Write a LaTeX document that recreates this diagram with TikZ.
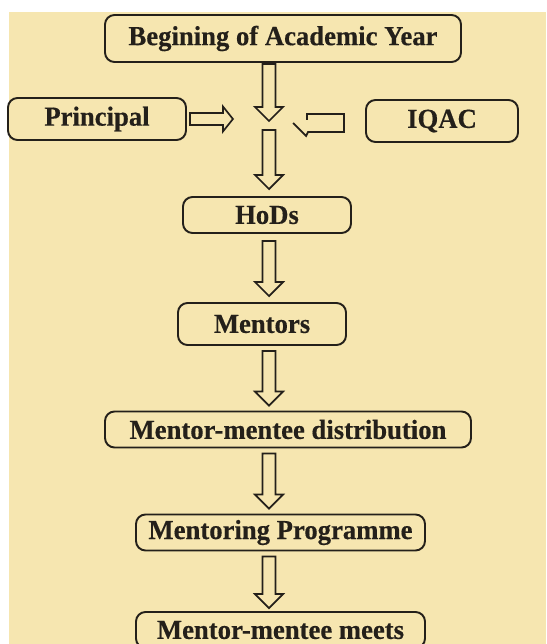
\documentclass[tikz,border=0pt]{standalone}
\usepackage{fontspec}
\setmainfont{Liberation Serif}
\newfontfamily\stagefont[FakeStretch=0.97,FakeBold=0.4]{Liberation Serif}
\usetikzlibrary{calc}
\definecolor{parchment}{RGB}{246,230,176}
\definecolor{ink}{RGB}{36,32,26}

% Hollow block arrow pointing down along the vertical through #1,
% from anchor #2 (offset #4 below it) to anchor #3 (tip #5 above it).
\newcommand{\flowdown}[5]{%
  \draw[blockline]
    ($(#1 |- #2)+(-6.5,#4)$) -- ($(#1 |- #3)+(-6.5,{-(#5)-14})$)
    -- ($(#1 |- #3)+(-14,{-(#5)-14})$) -- ($(#1 |- #3)+(0,{-(#5)})$)
    -- ($(#1 |- #3)+(14,{-(#5)-14})$) -- ($(#1 |- #3)+(6.5,{-(#5)-14})$)
    -- ($(#1 |- #2)+(6.5,#4)$) -- cycle;}

\begin{document}
\begin{tikzpicture}[x=1pt,y=-1pt,
  stage/.style={draw=ink, line width=1.9pt, rounded corners=9.5pt,
    font=\stagefont\bfseries\fontsize{27.5}{30}\selectfont, text=ink, inner sep=0pt},
  blockline/.style={draw=ink, line width=1.7pt, line join=miter}]
\useasboundingbox (0,0) rectangle (546,644);
\clip (0,0) rectangle (546,644);
\fill[white] (0,0) rectangle (546,644);
\fill[parchment] (8.5,12) rectangle (546,644);

% stages of the mentoring flow
\node[stage, minimum width=356pt, minimum height=47pt] (begin) at (283,38.5) {Begining of Academic Year};
\node[stage, minimum width=178pt, minimum height=42pt] (principal) at (97,119) {Principal};
\node[stage, minimum width=152pt, minimum height=42pt] (iqac) at (442,121) {IQAC};
\coordinate (hub) at (269,123);
\coordinate (axis) at (269,0);
\node[stage, minimum width=168pt, minimum height=36pt] (hods) at (267,215) {HoDs};
\node[stage, minimum width=168pt, minimum height=42pt] (mentors) at (262,324) {Mentors};
\node[stage, minimum width=366pt, minimum height=36pt] (dist) at (288,429.5) {Mentor-mentee distribution};
\node[stage, minimum width=289pt, minimum height=36pt] (prog) at (280.5,532.5) {Mentoring Programme};
\node[stage, minimum width=289pt, minimum height=36pt] (meets) at (280.5,630) {Mentor-mentee meets};

% vertical flow
\flowdown{axis}{begin.south}{hub}{1}{2}
\flowdown{axis}{hub}{hods.north}{7}{7}
\flowdown{axis}{hods.south}{mentors.north}{7}{6}
\flowdown{axis}{mentors.south}{dist.north}{5}{5}
\flowdown{axis}{dist.south}{prog.north}{5}{5}
\flowdown{axis}{prog.south}{meets.north}{5}{3}

% Principal feeds in from the left
\draw[blockline]
  ($(principal.east)+(3,-6)$) -- ($(principal.east)+(36,-6)$)
  -- ($(principal.east)+(36,-12.5)$) -- ($(principal.east)+(46,0)$)
  -- ($(principal.east)+(36,12.5)$) -- ($(principal.east)+(36,6)$)
  -- ($(principal.east)+(3,6)$) -- cycle;

% IQAC feeds in from the right (head only half drawn)
\draw[blockline]
  ($(iqac.west)+(-72,2)$) -- ($(iqac.west)+(-59,15)$)
  -- ($(iqac.west)+(-57,11)$) -- ($(iqac.west)+(-21,11)$)
  -- ($(iqac.west)+(-21,-7)$) -- ($(iqac.west)+(-58,-7)$)
  -- ($(iqac.west)+(-58,-1)$);
\end{tikzpicture}
\end{document}
